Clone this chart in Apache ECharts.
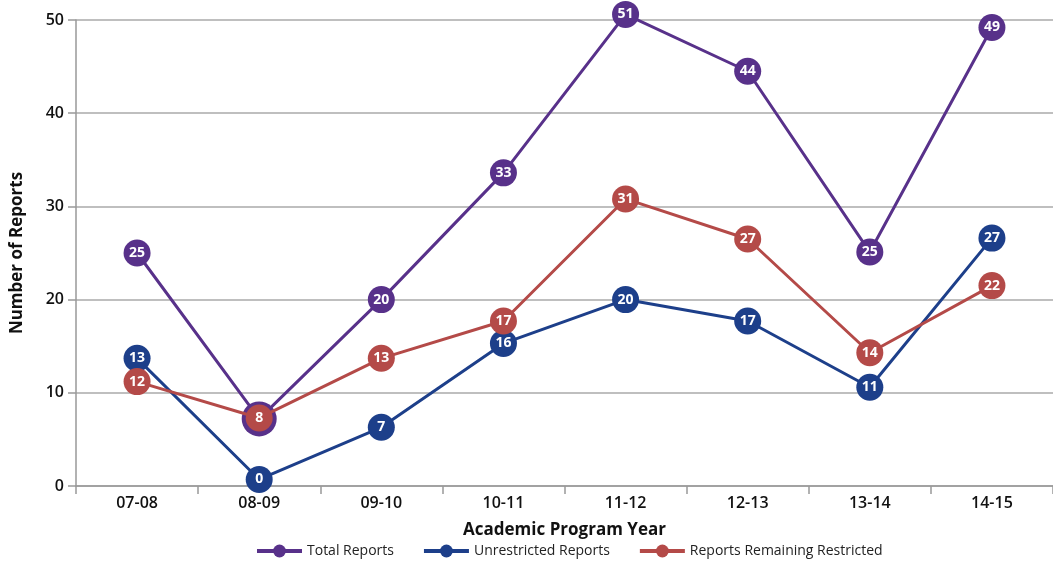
<!DOCTYPE html>
<html><head><meta charset="utf-8">
<script src="https://cdn.jsdelivr.net/npm/echarts@6/dist/echarts.min.js"></script>
<style>html,body{margin:0;padding:0;background:#fff}#c{width:1053px;height:565px}</style>
</head><body><div id="c"></div>
<script>
const categories = ['07-08','08-09','09-10','10-11','11-12','12-13','13-14','14-15'];
// plotted positions
const totalReports = [25, 7.2, 20, 33.6, 50.6, 44.5, 25.1, 49.2];
const unrestrictedReports = [13.7, 0.7, 6.3, 15.3, 20, 17.7, 10.6, 26.6];
const restrictedReports = [11.2, 7.3, 13.7, 17.7, 30.8, 26.5, 14.3, 21.5];
// printed data labels
const totalLabels = [25, 8, 20, 33, 51, 44, 25, 49];
const unrestrictedLabels = [13, 0, 7, 16, 20, 17, 11, 27];
const restrictedLabels = [12, 8, 13, 17, 31, 27, 14, 22];
const seriesNames = ['Total Reports','Unrestricted Reports','Reports Remaining Restricted'];
const colors = ['#58318a','#1d3f8a','#b44a48'];
const font = '"Open Sans", "Noto Sans", sans-serif';

const chart = echarts.init(document.getElementById('c'));
function mk(name, data, labels, color, z, special) {
  return {
    name, type: 'line', z, clip: false,
    data: data.map((v, i) => {
      if (special && special[i]) return { value: v, symbolSize: special[i], label: { show: false } };
      return v;
    }),
    symbol: 'circle', symbolSize: 27,
    lineStyle: { color, width: 3 },
    itemStyle: { color },
    label: {
      show: true, position: 'inside', color: '#fff', fontWeight: 'bold', fontSize: 14, fontFamily: font,
      formatter: p => String(labels[p.dataIndex])
    },
    emphasis: { disabled: true }
  };
}
chart.setOption({
  animation: false,
  textStyle: { fontFamily: font },
  grid: { left: 76, right: -9, top: 20, bottom: 79 },
  legend: {
    bottom: 2, left: 250, itemWidth: 45, itemHeight: 16, itemGap: 28,
    lineStyle: { width: 4 },
    textStyle: { fontSize: 14, color: '#222', fontFamily: font },
    data: seriesNames
  },
  xAxis: {
    type: 'category', data: categories, boundaryGap: true,
    name: 'Academic Program Year', nameLocation: 'middle', nameGap: 36,
    nameTextStyle: { fontSize: 17, fontWeight: 'bold', color: '#111', fontFamily: font },
    axisLine: { lineStyle: { color: '#999', width: 1.5 } },
    axisTick: { show: true, length: 8, lineStyle: { color: '#999', width: 1.5 } },
    axisLabel: { fontSize: 16, fontWeight: 600, color: '#111', margin: 9, fontFamily: font },
    splitLine: { show: false }
  },
  yAxis: {
    type: 'value', min: 0, max: 50, interval: 10,
    name: 'Number of Reports', nameLocation: 'middle', nameGap: 50,
    nameTextStyle: { fontSize: 17, fontWeight: 'bold', color: '#111', fontFamily: font },
    axisLine: { show: true, lineStyle: { color: '#999', width: 1.5 } },
    axisTick: { show: true, length: 8, lineStyle: { color: '#999', width: 1.5 } },
    axisLabel: { fontSize: 16, fontWeight: 600, color: '#111', margin: 12, fontFamily: font },
    splitLine: { lineStyle: { color: '#aaa', width: 1.5 } }
  },
  series: [
    mk(seriesNames[0], totalReports, totalLabels, colors[0], 2, [null, 35]),
    mk(seriesNames[1], unrestrictedReports, unrestrictedLabels, colors[1], 3),
    mk(seriesNames[2], restrictedReports, restrictedLabels, colors[2], 4)
  ]
});
</script></body></html>
